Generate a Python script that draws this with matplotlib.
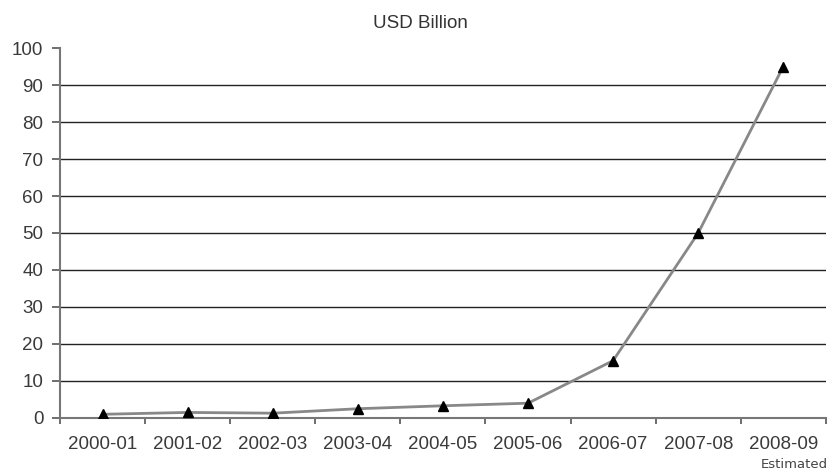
import numpy as np
import matplotlib.pyplot as plt

plt.rcParams['font.family'] = ['Liberation Sans', 'DejaVu Sans']

# Données
years = ['2000-01', '2001-02', '2002-03', '2003-04', '2004-05',
         '2005-06', '2006-07', '2007-08', '2008-09']
values = [1.0, 1.5, 1.3, 2.5, 3.3, 4.0, 15.5, 50.0, 95.0]

fig = plt.figure(figsize=(8.3, 4.73), dpi=100)
ax = fig.add_axes([0.0723, 0.1163, 0.9227, 0.7822])

x = np.arange(len(years))
ax.plot(x, values, color='#888888', linewidth=2, zorder=3)
ax.plot(x, values, linestyle='none', marker='^', color='black',
        markersize=6.5, zorder=4)

ax.set_xlim(-0.5, len(years) - 0.5)
ax.set_ylim(0, 100)
ax.set_yticks(range(0, 101, 10))
for yv in range(10, 100, 10):
    ax.axhline(yv, color='#222222', linewidth=1, zorder=1)

ax.set_xticks(np.arange(-0.5, len(years), 1))
ax.set_xticklabels([])
ax.set_xticks(x, minor=True)
ax.set_xticklabels(years, minor=True)
ax.tick_params(axis='x', which='minor', length=0, pad=13,
               labelsize=13.5, labelcolor='#3a3a3a')
ax.tick_params(axis='x', which='major', length=4, direction='out',
               color='#555555', width=1.2)
ax.tick_params(axis='y', length=6, direction='out', color='#555555',
               width=1.2, pad=6, labelsize=13.5, labelcolor='#3a3a3a')

for s in ['top', 'right']:
    ax.spines[s].set_visible(False)
for s in ['left', 'bottom']:
    ax.spines[s].set_color('#777777')
    ax.spines[s].set_linewidth(1.5)

fig.text(0.507, 0.951, 'USD Billion', ha='center', va='center',
         fontsize=13.5, color='#333333')
fig.text(0.998, 0.017, 'Estimated', ha='right', va='center',
         fontsize=9.5, color='#444444', family=['DejaVu Sans'])

fig.savefig('out.png')
